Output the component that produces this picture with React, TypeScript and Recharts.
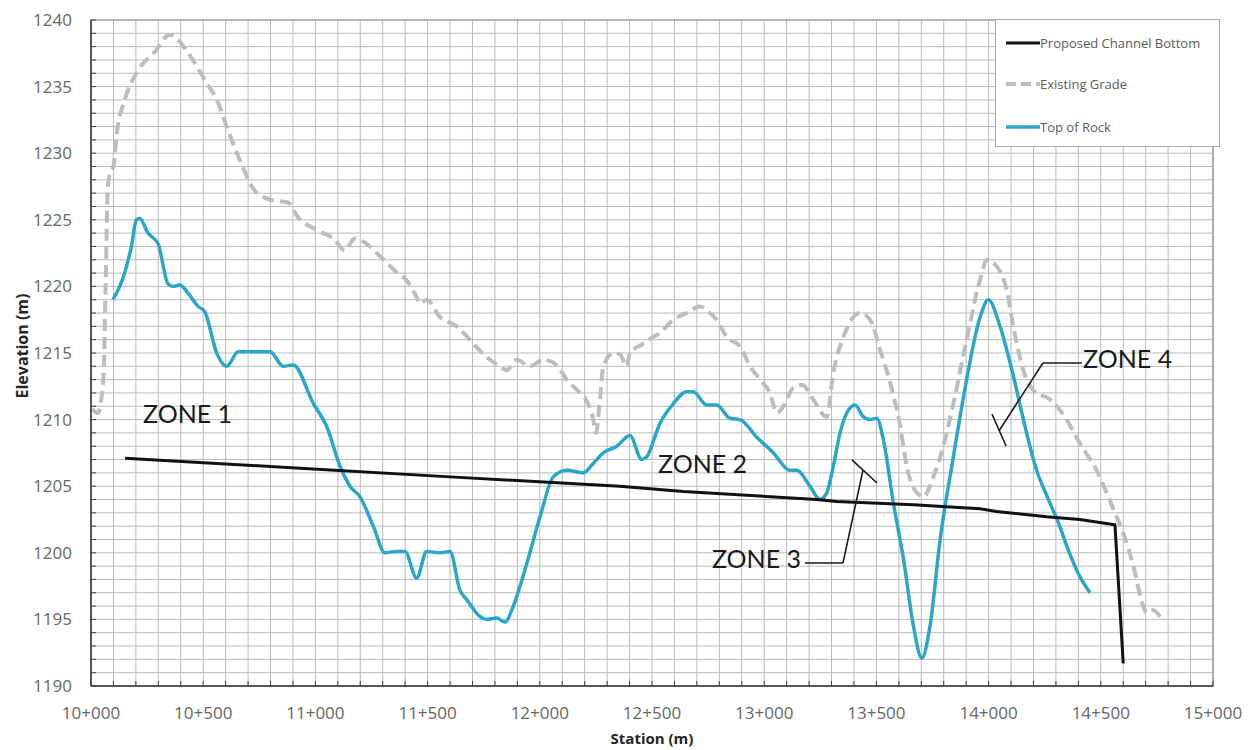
import React from 'react';
import {
  LineChart,
  Line,
  XAxis,
  YAxis,
  CartesianGrid,
  Legend,
  ReferenceLine,
  ReferenceDot,
  ReferenceArea,
} from 'recharts';

// ---- Profile data (station in m, elevation in m) ----
const existingStations = [
  10005, 10030, 10055, 10065, 10075, 10085, 10100, 10115, 10150, 10209, 10284, 10351, 10388,
  10446, 10507, 10566, 10611, 10668, 10729, 10802, 10878, 10922, 11011, 11086, 11131, 11175,
  11220, 11292, 11353, 11413, 11451, 11466, 11496, 11555, 11630, 11704, 11763, 11823, 11853,
  11897, 11956, 12016, 12075, 12120, 12179, 12209, 12238, 12250, 12268, 12283, 12328, 12357,
  12387, 12402, 12461, 12506, 12535, 12595, 12655, 12714, 12743, 12788, 12833, 12892, 12937,
  12982, 13026, 13056, 13086, 13130, 13170, 13219, 13279, 13308, 13353, 13427, 13472, 13517,
  13562, 13606, 13635, 13680, 13709, 13754, 13798, 13843, 13902, 13962, 13992, 14036, 14081,
  14110, 14155, 14199, 14274, 14348, 14407, 14481, 14526, 14563, 14600, 14645, 14689, 14704,
  14733, 14764,
];
const existingElev = [
  1210.8, 1210.5, 1213, 1220, 1227.5, 1228.5, 1229, 1231.5, 1234, 1236.2, 1237.6, 1238.9, 1238.5,
  1237.2, 1235.5, 1233.8, 1231.7, 1229.3, 1227.2, 1226.5, 1226.3, 1225.2, 1224.2, 1223.5, 1222.7,
  1223.6, 1223.3, 1222.2, 1221.2, 1220.3, 1219.2, 1218.7, 1219, 1217.7, 1217, 1215.7, 1214.7,
  1214, 1213.7, 1214.5, 1214, 1214.5, 1214.1, 1213, 1212, 1211.4, 1210, 1209, 1211.5, 1214,
  1215, 1214.9, 1214, 1215, 1215.7, 1216.2, 1216.5, 1217.5, 1218, 1218.5, 1218.2, 1217.5, 1216.2,
  1215.5, 1214, 1213, 1212, 1210.5, 1211, 1212.4, 1212.6, 1211.5, 1210.2, 1213.5, 1216.2, 1218,
  1217.5, 1215.2, 1212.7, 1209.5, 1206.5, 1204.5, 1204.2, 1205.7, 1208, 1211.2, 1216, 1220.5,
  1222, 1221.5, 1219.7, 1217, 1213.7, 1212.2, 1211.5, 1210, 1208.2, 1206.2, 1204.5, 1203,
  1201.5, 1199, 1196, 1195.5, 1195.7, 1195.2,
];

const rockStations = [
  10098, 10150, 10180, 10202, 10217, 10254, 10299, 10343, 10365, 10395, 10432, 10477, 10507,
  10560, 10605, 10656, 10798, 10857, 10901, 10991, 11050, 11110, 11154, 11199, 11258, 11310,
  11362, 11399, 11451, 11496, 11555, 11600, 11644, 11674, 11734, 11763, 11808, 11845, 11882,
  11942, 12001, 12060, 12120, 12194, 12238, 12283, 12343, 12402, 12454, 12476, 12535, 12595,
  12655, 12684, 12743, 12788, 12848, 12892, 12966, 13041, 13115, 13145, 13204, 13249, 13279,
  13308, 13338, 13368, 13405, 13442, 13472, 13502, 13531, 13576, 13621, 13665, 13702, 13739,
  13784, 13843, 13902, 13962, 13999, 14051, 14110, 14155, 14214, 14259, 14310, 14360, 14407,
  14452,
];
const rockElev = [
  1219, 1221, 1223, 1225, 1225.1, 1224, 1223.2, 1220.2, 1220, 1220.1, 1219.5, 1218.5, 1218.1,
  1215, 1214, 1215.1, 1215.1, 1214, 1214.1, 1211.2, 1209.5, 1206.5, 1205, 1204.2, 1202, 1200,
  1200.1, 1200.1, 1198.1, 1200.1, 1200, 1200.1, 1197.2, 1196.5, 1195.2, 1195, 1195.1, 1194.8,
  1196, 1199.2, 1202.7, 1205.7, 1206.2, 1206, 1206.7, 1207.5, 1208, 1208.8, 1207, 1207.2,
  1209.7, 1211.2, 1212.1, 1212.1, 1211.1, 1211.1, 1210.1, 1210, 1208.7, 1207.5, 1206.2, 1206.2,
  1205, 1204, 1204.5, 1206.5, 1209, 1210.5, 1211.1, 1210.2, 1210, 1210.1, 1208.5, 1203.7,
  1199.5, 1194.5, 1192.1, 1194.5, 1201, 1207.2, 1213, 1217.7, 1219, 1217, 1213.3, 1210, 1206.2,
  1204.3, 1202.3, 1200, 1198.2, 1197,
];

const channelStations = [
  10152, 10931, 11600, 12357, 12640, 13234, 13323, 13665, 13962, 14036, 14259, 14407, 14563,
  14600,
];
const channelElev = [
  1207.1, 1206.35, 1205.7, 1205.0, 1204.6, 1204.0, 1203.85, 1203.6, 1203.3, 1203.1, 1202.7,
  1202.5, 1202.1, 1191.7,
];

// ---- Axis ticks ----
const stationLabelValues = [10000, 10500, 11000, 11500, 12000, 12500, 13000, 13500, 14000, 14500, 15000];
const stationLabels = ['10+000', '10+500', '11+000', '11+500', '12+000', '12+500', '13+000', '13+500', '14+000', '14+500', '15+000'];
const elevationLabels = [1190, 1195, 1200, 1205, 1210, 1215, 1220, 1225, 1230, 1235, 1240];

// minor divisions: every 100 m of station, every 1 m of elevation
const stationTicks: number[] = [];
for (let s = 10000; s <= 15000; s += 100) stationTicks.push(s);
const elevationTicks: number[] = [];
for (let e = 1190; e <= 1240; e += 1) elevationTicks.push(e);

// ---- Zone annotations (data coordinates) ----
const zoneLabels = [
  { text: 'ZONE 1', station: 10232, elev: 1209.74 },
  { text: 'ZONE 2', station: 12527, elev: 1205.99 },
  { text: 'ZONE 3', station: 12767, elev: 1198.86 },
  { text: 'ZONE 4', station: 14421, elev: 1213.87 },
];
const leaderSegments = [
  // Zone 3 leader
  [{ x: 13182, y: 1199.23 }, { x: 13351, y: 1199.23 }],
  [{ x: 13351, y: 1199.23 }, { x: 13440, y: 1206.2 }],
  [{ x: 13391, y: 1206.97 }, { x: 13503, y: 1205.24 }],
  // Zone 4 leader
  [{ x: 14416, y: 1214.25 }, { x: 14242, y: 1214.25 }],
  [{ x: 14242, y: 1214.25 }, { x: 14046, y: 1209.14 }],
  [{ x: 14015, y: 1210.42 }, { x: 14078, y: 1208.02 }],
];

const toPoints = (st: number[], el: number[]) => st.map((s, i) => ({ station: s, elev: el[i] }));
const existingGrade = toPoints(existingStations, existingElev);
const topOfRock = toPoints(rockStations, rockElev);
const channelBottom = toPoints(channelStations, channelElev);

const SERIES = [
  { name: 'Proposed Channel Bottom', color: '#111111', width: 3, dash: undefined as string | undefined },
  { name: 'Existing Grade', color: '#bdbdbd', width: 4, dash: '12 6' },
  { name: 'Top of Rock', color: '#2aa6c8', width: 3.5, dash: undefined as string | undefined },
];

const TICK_FONT = '"Open Sans", "Liberation Sans", sans-serif';
const TICK_COLOR = '#666666';

const StationTick = (props: any) => {
  const { x, y, payload } = props;
  const v = payload.value as number;
  const idx = stationLabelValues.indexOf(v);
  return (
    <g>
      <line x1={x} y1={y} x2={x} y2={y - 5} stroke="#404040" strokeWidth={1} />
      {idx >= 0 && (
        <text x={x} y={y + 33} textAnchor="middle" fontSize={17} fill={TICK_COLOR} fontFamily={TICK_FONT}>
          {stationLabels[idx]}
        </text>
      )}
    </g>
  );
};

const ElevationTick = (props: any) => {
  const { x, y, payload } = props;
  const v = payload.value as number;
  return (
    <g>
      <line x1={x} y1={y} x2={x + 5} y2={y} stroke="#404040" strokeWidth={1} />
      {elevationLabels.includes(v) && (
        <text x={x - 19} y={y + 6} textAnchor="end" fontSize={17} fill={TICK_COLOR} fontFamily={TICK_FONT}>
          {v}
        </text>
      )}
    </g>
  );
};

const LegendBox = () => (
  <div
    style={{
      width: 225,
      height: 128,
      boxSizing: 'border-box',
      border: '1px solid #a8a8a8',
      background: '#ffffff',
      position: 'relative',
      fontFamily: TICK_FONT,
      fontSize: 13,
      color: '#5a5a5a',
    }}
  >
    {SERIES.map((s, i) => (
      <div
        key={s.name}
        style={{
          position: 'absolute',
          left: 10,
          top: [23, 64, 107][i] - 10,
          height: 20,
          display: 'flex',
          alignItems: 'center',
          whiteSpace: 'nowrap',
        }}
      >
        <svg width={34} height={8} style={{ display: 'block' }}>
          <line x1={0} y1={4} x2={34} y2={4} stroke={s.color} strokeWidth={s.width} strokeDasharray={s.dash ? '10 5' : undefined} />
        </svg>
        <span>{s.name}</span>
      </div>
    ))}
  </div>
);

const ZoneText = (text: string) => (p: any) => (
  <text x={p.cx} y={p.cy} fontSize={25} fill="#1a1a1a" fontFamily='Lato, "Noto Sans", sans-serif'>
    {text}
  </text>
);

export default function App() {
  return (
    <div style={{ position: 'absolute', left: 0, top: 0, width: 1254, height: 750, background: '#fff' }}>
      <LineChart width={1254} height={750} margin={{ top: 20, right: 41, bottom: 0, left: 0 }}>
        <CartesianGrid stroke="#b9b9b9" strokeWidth={1} />
        <ReferenceArea
          x1={10000}
          x2={15000}
          y1={1190}
          y2={1240}
          fill="none"
          stroke="#8f8f8f"
          strokeWidth={1.2}
          ifOverflow="visible"
        />
        <XAxis
          dataKey="station"
          type="number"
          domain={[10000, 15000]}
          ticks={stationTicks}
          interval={0}
          allowDataOverflow
          height={64}
          tickSize={0}
          tickMargin={0}
          tickLine={false}
          axisLine={{ stroke: '#3a3a3a', strokeWidth: 1.5 }}
          tick={<StationTick />}
          label={{
            content: (p: any) => (
              <text
                x={p.viewBox.x + p.viewBox.width / 2}
                y={p.viewBox.y + 58}
                textAnchor="middle"
                fontSize={15}
                fontWeight="bold"
                fill="#262626"
                fontFamily={TICK_FONT}
              >
                Station (m)
              </text>
            ),
          }}
        />
        <YAxis
          type="number"
          domain={[1190, 1240]}
          ticks={elevationTicks}
          interval={0}
          allowDataOverflow
          width={91}
          tickSize={0}
          tickMargin={0}
          tickLine={false}
          axisLine={{ stroke: '#3a3a3a', strokeWidth: 1.5 }}
          tick={<ElevationTick />}
          label={{
            content: (p: any) => {
              const cx = p.viewBox.x + 22;
              const cy = p.viewBox.y + p.viewBox.height / 2 - 7;
              return (
                <text
                  x={cx}
                  y={cy}
                  transform={`rotate(-90 ${cx} ${cy})`}
                  textAnchor="middle"
                  dominantBaseline="central"
                  fontSize={16}
                  fontWeight="bold"
                  fill="#262626"
                  fontFamily={TICK_FONT}
                >
                  Elevation (m)
                </text>
              );
            },
          }}
        />
        <Line
          data={existingGrade}
          dataKey="elev"
          name="Existing Grade"
          type="monotone"
          stroke={SERIES[1].color}
          strokeWidth={SERIES[1].width}
          strokeDasharray={SERIES[1].dash}
          dot={false}
          activeDot={false}
          isAnimationActive={false}
        />
        <Line
          data={topOfRock}
          dataKey="elev"
          name="Top of Rock"
          type="monotone"
          stroke={SERIES[2].color}
          strokeWidth={SERIES[2].width}
          dot={false}
          activeDot={false}
          isAnimationActive={false}
        />
        <Line
          data={channelBottom}
          dataKey="elev"
          name="Proposed Channel Bottom"
          type="linear"
          stroke={SERIES[0].color}
          strokeWidth={SERIES[0].width}
          dot={false}
          activeDot={false}
          isAnimationActive={false}
        />
        {leaderSegments.map((seg, i) => (
          <ReferenceLine
            key={`leader-${i}`}
            segment={seg}
            stroke="#1a1a1a"
            strokeWidth={1.6}
            ifOverflow="visible"
          />
        ))}
        {zoneLabels.map((z) => (
          <ReferenceDot
            key={z.text}
            x={z.station}
            y={z.elev}
            r={0}
            ifOverflow="visible"
            shape={ZoneText(z.text)}
          />
        ))}
        <Legend
          layout="vertical"
          align="center"
          verticalAlign="middle"
          wrapperStyle={{ left: 995, top: 19, width: 225, height: 128 }}
          content={LegendBox}
        />
      </LineChart>
    </div>
  );
}
